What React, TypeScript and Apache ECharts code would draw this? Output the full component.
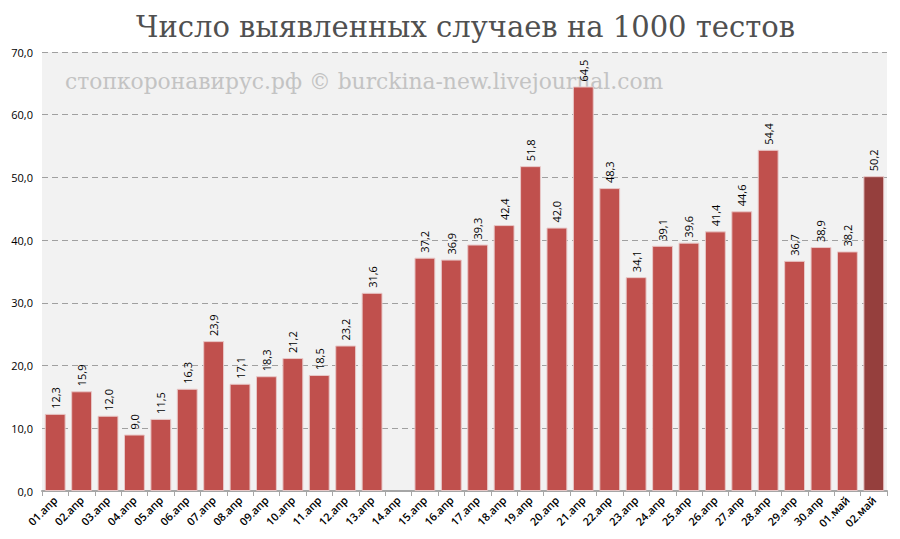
import React, { useEffect, useRef } from "react";
import * as echarts from "echarts";

const categories = [
  "01.апр", "02.апр", "03.апр", "04.апр", "05.апр", "06.апр", "07.апр", "08.апр",
  "09.апр", "10.апр", "11.апр", "12.апр", "13.апр", "14.апр", "15.апр", "16.апр",
  "17.апр", "18.апр", "19.апр", "20.апр", "21.апр", "22.апр", "23.апр", "24.апр",
  "25.апр", "26.апр", "27.апр", "28.апр", "29.апр", "30.апр", "01.май", "02.май",
];
const values: (number | null)[] = [
  12.3, 15.9, 12.0, 9.0, 11.5, 16.3, 23.9, 17.1, 18.3, 21.2, 18.5, 23.2, 31.6, null,
  37.2, 36.9, 39.3, 42.4, 51.8, 42.0, 64.5, 48.3, 34.1, 39.1, 39.6, 41.4, 44.6, 54.4,
  36.7, 38.9, 38.2, 50.2,
];
const highlightIndex = 31;
const titleText = "Число выявленных случаев на 1000 тестов";
const watermark = "стопкоронавирус.рф © burckina-new.livejournal.com";

const fmt = (v: number) => v.toFixed(1).replace(".", ",");

export default function App() {
  const ref = useRef<HTMLDivElement>(null);
  useEffect(() => {
    if (!ref.current) return;
    const chart = echarts.init(ref.current, null, { renderer: "svg" });
    chart.setOption({
      animation: false,
      backgroundColor: "#ffffff",
      title: {
        text: titleText,
        left: 123,
        top: -1,
        textStyle: {
          fontFamily: "'DejaVu Serif', serif",
          fontSize: 29,
          fontWeight: "normal",
          color: "#505050",
        },
      },
      graphic: [
        {
          type: "text",
          left: 57,
          top: 62,
          z: 0,
          silent: true,
          style: {
            text: watermark,
            fontFamily: "'DejaVu Serif', serif",
            fontSize: 21.8,
            fill: "#c3c3c3",
          },
        },
      ],
      grid: {
        left: 34,
        right: 13,
        top: 44,
        bottom: 48,
        show: true,
        backgroundColor: "#f2f2f2",
        borderWidth: 0,
        z: -1,
      },
      xAxis: {
        type: "category",
        data: categories,
        axisLine: { lineStyle: { color: "#a6a6a6", width: 2 } },
        axisTick: { show: true, alignWithLabel: false, length: 5, lineStyle: { color: "#a6a6a6" } },
        axisLabel: {
          interval: 0,
          rotate: 45,
          fontSize: 11,
          fontWeight: 600,
          color: "#000",
          fontFamily: "'Open Sans', 'Noto Sans', sans-serif",
          margin: 7,
        },
      },
      yAxis: {
        type: "value",
        min: 0,
        max: 70,
        interval: 10,
        axisLine: { show: false },
        axisTick: { show: false },
        axisLabel: {
          formatter: (v: number) => fmt(v),
          fontSize: 11,
          color: "#000",
          fontFamily: "'Open Sans', 'Noto Sans', sans-serif",
          margin: 9,
        },
        splitLine: { lineStyle: { color: "#a0a0a0", type: [6, 4], width: 1 } },
      },
      series: [
        {
          type: "bar",
          barCategoryGap: "21%",
          z: 3,
          data: values.map((v, i) =>
            i === highlightIndex
              ? { value: v, itemStyle: { color: "#953f3d" } }
              : v
          ),
          itemStyle: { color: "#c0504d", borderColor: "#e8c8c8", borderWidth: 1 },
          label: {
            show: true,
            position: "top",
            rotate: 90,
            align: "left",
            verticalAlign: "middle",
            distance: 5,
            fontSize: 11,
            color: "#000",
            fontFamily: "'Open Sans', 'Noto Sans', sans-serif",
            formatter: (p: any) => (p.value == null ? "" : fmt(p.value)),
          },
        },
      ],
    });
    return () => chart.dispose();
  }, []);
  return <div ref={ref} style={{ width: 892, height: 531 }} />;
}
